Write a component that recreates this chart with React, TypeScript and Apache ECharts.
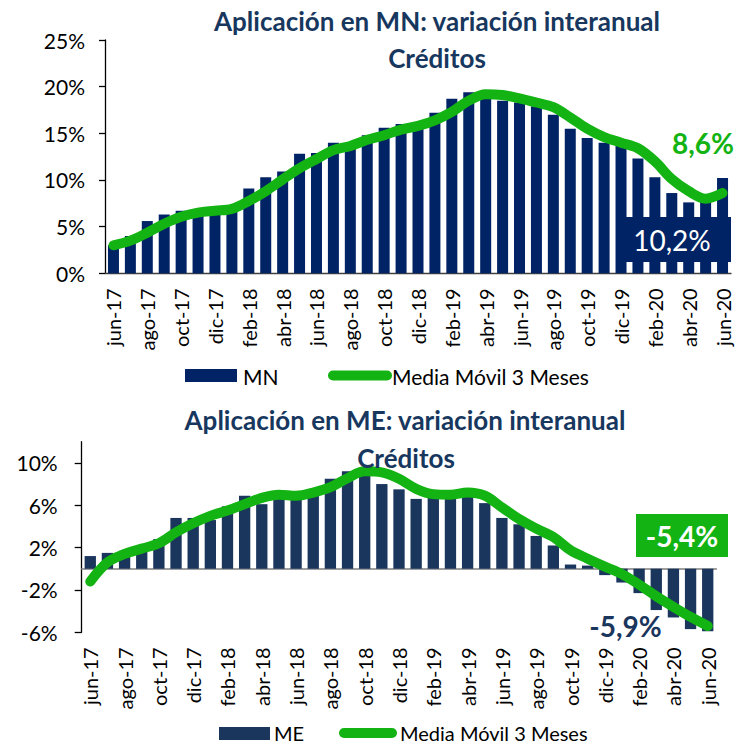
import { useEffect, useRef } from "react";
import * as echarts from "echarts";

const categories = [
  "jun-17", "jul-17", "ago-17", "sep-17", "oct-17", "nov-17", "dic-17",
  "ene-18", "feb-18", "mar-18", "abr-18", "may-18", "jun-18", "jul-18", "ago-18", "sep-18", "oct-18", "nov-18", "dic-18",
  "ene-19", "feb-19", "mar-19", "abr-19", "may-19", "jun-19", "jul-19", "ago-19", "sep-19", "oct-19", "nov-19", "dic-19",
  "ene-20", "feb-20", "mar-20", "abr-20", "may-20", "jun-20",
];

const mnBars = [
  3.0, 4.0, 5.6, 6.3, 6.7, 6.4, 6.5, 6.6, 9.1, 10.3, 10.9, 12.8, 12.9, 14.0, 13.7, 14.8, 15.6, 16.0, 15.8,
  17.2, 18.7, 19.4, 19.0, 18.5, 18.3, 17.9, 17.0, 15.5, 14.5, 14.0, 13.8, 12.3, 10.3, 8.6, 7.6, 7.9, 10.2,
];
const mnAvg = [
  3.0, 3.5, 4.35, 5.3, 6.05, 6.5, 6.7, 6.9, 7.75, 8.8, 10.05, 11.25, 12.25, 13.2, 13.65, 14.3, 14.8, 15.4, 15.8,
  16.4, 17.3, 18.5, 19.2, 19.1, 18.75, 18.3, 17.8, 16.7, 15.5, 14.6, 14.0, 13.4, 12.0, 10.1, 8.8, 8.0, 8.6,
];

const meBars = [
  1.2, 1.5, 1.7, 2.2, 2.8, 4.8, 4.8, 4.6, 5.9, 6.9, 6.1, 6.7, 6.6, 6.9, 8.5, 9.2, 9.5, 8.0, 7.5,
  6.6, 6.7, 6.6, 6.8, 6.2, 4.8, 4.2, 3.1, 2.2, 0.4, 0.3, -0.6, -1.3, -2.3, -3.9, -4.6, -5.7, -5.9,
];
const meAvg = [
  -1.2, 0.6, 1.4, 1.9, 2.4, 3.45, 4.3, 5.0, 5.5, 6.1, 6.7, 7.0, 6.9, 7.2, 7.7, 8.55, 9.2, 9.1, 8.5,
  7.55, 7.05, 7.0, 7.2, 6.9, 5.8, 4.7, 3.8, 3.0, 1.75, 0.95, 0.2, -0.5, -1.5, -2.6, -3.6, -4.55, -5.4,
];

const mnTicks = [0, 5, 10, 15, 20, 25];
const meTicks = [-6, -2, 2, 6, 10];

const titleMN = "Aplicación en MN: variación interanual";
const titleME = "Aplicación en ME: variación interanual";
const subtitle = "Créditos";
const legendAvg = "Media Móvil 3 Meses";
const lastMN = "10,2%";
const lastMNAvg = "8,6%";
const lastME = "-5,9%";
const lastMEAvg = "-5,4%";

const NAVY_MN = "#002366";
const NAVY_ME = "#1b365d";
const GREEN = "#12b312";
const TITLE = "#17375e";
const FONT = "Lato, 'Open Sans', sans-serif";

export default function App() {
  const ref = useRef<HTMLDivElement>(null);

  useEffect(() => {
    document.body.style.margin = "0";
    if (!ref.current) return;
    const chart = echarts.init(ref.current, undefined, { renderer: "svg" });

    const xLabel = {
      rotate: 90,
      interval: 1,
      fontSize: 20,
      color: "#000",
      fontFamily: FONT,
      margin: 15,
    };

    const option: any = {
      animation: false,
      backgroundColor: "#ffffff",
      textStyle: { fontFamily: FONT },
      grid: [
        { left: 105, top: 40, width: 626, height: 233.3, containLabel: false },
        { left: 81.7, top: 441.7, width: 634.6, height: 190.6, containLabel: false },
      ],
      xAxis: [
        {
          type: "category",
          gridIndex: 0,
          data: categories,
          position: "bottom",
          axisLine: { lineStyle: { color: "#404040", width: 1.3 } },
          axisTick: { interval: 1, length: 6, lineStyle: { color: "#404040", width: 1.3 } },
          axisLabel: xLabel,
        },
        {
          type: "category",
          gridIndex: 1,
          data: categories,
          position: "bottom",
          axisLine: { show: false, onZero: false },
          axisTick: { show: false },
          axisLabel: xLabel,
        },
        {
          type: "category",
          gridIndex: 1,
          data: categories,
          position: "bottom",
          axisLine: { show: true, onZero: true, lineStyle: { color: "#7f7f7f", width: 1.5 } },
          axisTick: { interval: 1, length: 6, lineStyle: { color: "#404040", width: 1.3 } },
          axisLabel: { show: false },
        },
      ],
      yAxis: [
        {
          type: "value",
          gridIndex: 0,
          min: 0,
          max: 25,
          interval: 5,
          splitLine: { show: false },
          axisLine: { show: true, lineStyle: { color: "#000", width: 1.3 } },
          axisTick: { show: true, length: 6, customValues: mnTicks, lineStyle: { color: "#000", width: 1.3 } },
          axisLabel: {
            customValues: mnTicks,
            formatter: (v: number) => `${v}%`,
            fontSize: 21,
            color: "#000",
            fontFamily: FONT,
            margin: 20,
          },
        },
        {
          type: "value",
          gridIndex: 1,
          min: -6,
          max: 12,
          interval: 4,
          splitLine: { show: false },
          axisLine: { show: true, lineStyle: { color: "#000", width: 1.3 } },
          axisTick: { show: true, length: 7, customValues: meTicks, lineStyle: { color: "#000", width: 1.3 } },
          axisLabel: {
            customValues: meTicks,
            formatter: (v: number) => `${v}%`,
            fontSize: 21,
            color: "#000",
            fontFamily: FONT,
            margin: 24,
          },
        },
      ],
      series: [
        {
          name: "MN",
          type: "bar",
          xAxisIndex: 0,
          yAxisIndex: 0,
          data: mnBars,
          barWidth: "65%",
          itemStyle: { color: NAVY_MN },
          z: 2,
        },
        {
          name: legendAvg,
          type: "line",
          xAxisIndex: 0,
          yAxisIndex: 0,
          data: mnAvg,
          smooth: 0.35,
          symbol: "none",
          lineStyle: { color: GREEN, width: 10, cap: "round", join: "round" },
          z: 3,
        },
        {
          name: "ME",
          type: "bar",
          xAxisIndex: 1,
          yAxisIndex: 1,
          data: meBars,
          barWidth: "66%",
          itemStyle: { color: NAVY_ME },
          z: 2,
        },
        {
          name: legendAvg,
          type: "line",
          xAxisIndex: 1,
          yAxisIndex: 1,
          data: meAvg,
          smooth: 0.35,
          symbol: "none",
          lineStyle: { color: GREEN, width: 10, cap: "round", join: "round" },
          z: 3,
        },
      ],
      graphic: [
        // titles
        {
          type: "text", x: 437, y: 21, z: 100,
          style: { text: titleMN, fill: TITLE, font: `bold 26px ${FONT}`, align: "center", verticalAlign: "middle" },
        },
        {
          type: "text", x: 437, y: 58, z: 100,
          style: { text: subtitle, fill: TITLE, font: `bold 26px ${FONT}`, align: "center", verticalAlign: "middle" },
        },
        {
          type: "text", x: 405, y: 420, z: 100,
          style: { text: titleME, fill: TITLE, font: `bold 26px ${FONT}`, align: "center", verticalAlign: "middle" },
        },
        {
          type: "text", x: 406, y: 457.5, z: 100,
          style: { text: subtitle, fill: TITLE, font: `bold 26px ${FONT}`, align: "center", verticalAlign: "middle" },
        },
        // legend top
        { type: "rect", z: 100, shape: { x: 185, y: 369, width: 52, height: 13 }, style: { fill: NAVY_MN } },
        {
          type: "text", x: 243, y: 376, z: 100,
          style: { text: "MN", fill: "#000", font: `21px ${FONT}`, align: "left", verticalAlign: "middle" },
        },
        {
          type: "line", z: 100,
          shape: { x1: 333, y1: 375.5, x2: 387, y2: 375.5 },
          style: { stroke: GREEN, lineWidth: 10, lineCap: "round" },
        },
        {
          type: "text", x: 392, y: 376, z: 100,
          style: { text: legendAvg, fill: "#000", font: `21px ${FONT}`, align: "left", verticalAlign: "middle" },
        },
        // legend bottom
        { type: "rect", z: 100, shape: { x: 219, y: 727, width: 51, height: 13 }, style: { fill: NAVY_ME } },
        {
          type: "text", x: 274, y: 733, z: 100,
          style: { text: "ME", fill: "#000", font: `20px ${FONT}`, align: "left", verticalAlign: "middle" },
        },
        {
          type: "line", z: 100,
          shape: { x1: 344, y1: 733, x2: 392, y2: 733 },
          style: { stroke: GREEN, lineWidth: 10, lineCap: "round" },
        },
        {
          type: "text", x: 400, y: 733, z: 100,
          style: { text: legendAvg, fill: "#000", font: `20px ${FONT}`, align: "left", verticalAlign: "middle" },
        },
        // annotations top
        { type: "rect", z: 100, shape: { x: 616, y: 217, width: 115, height: 45 }, style: { fill: NAVY_MN } },
        {
          type: "text", x: 672, y: 240, z: 101,
          style: { text: lastMN, fill: "#fff", font: `28px ${FONT}`, align: "center", verticalAlign: "middle" },
        },
        {
          type: "text", x: 703, y: 143, z: 101,
          style: { text: lastMNAvg, fill: GREEN, font: `bold 28px ${FONT}`, align: "center", verticalAlign: "middle" },
        },
        // annotations bottom
        { type: "rect", z: 100, shape: { x: 636, y: 514, width: 92, height: 43 }, style: { fill: GREEN } },
        {
          type: "text", x: 682, y: 536, z: 101,
          style: { text: lastMEAvg, fill: "#fff", font: `bold 28px ${FONT}`, align: "center", verticalAlign: "middle" },
        },
        {
          type: "text", x: 625.5, y: 626, z: 101,
          style: { text: lastME, fill: NAVY_ME, font: `bold 28px ${FONT}`, align: "center", verticalAlign: "middle" },
        },
      ],
    };

    chart.setOption(option);
    return () => chart.dispose();
  }, []);

  return <div ref={ref} style={{ width: 741, height: 744 }} />;
}
